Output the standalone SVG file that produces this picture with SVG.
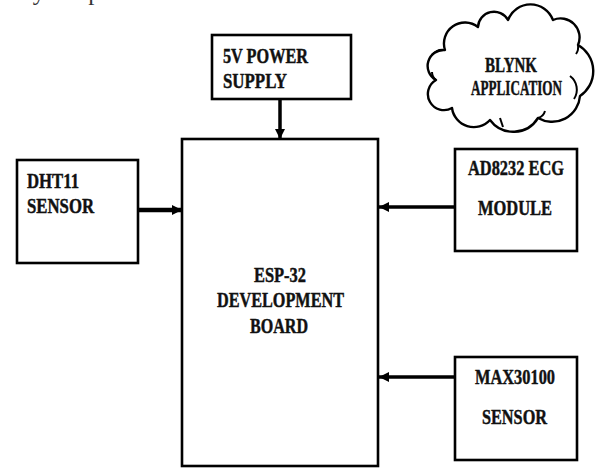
<svg xmlns="http://www.w3.org/2000/svg" width="600" height="468" viewBox="0 0 600 468">
<defs>
<style>
.box{fill:#fff;stroke:#000;stroke-width:2.6}
.lbl{font-family:"Liberation Serif","Times New Roman",serif;font-weight:bold;font-size:21px;fill:#111;stroke:#111;stroke-width:0.45}
.con{stroke:#000;fill:none}
.cloud{fill:#fff;stroke:#000;stroke-width:2.4;stroke-linejoin:round}
.inner{fill:none;stroke:#000;stroke-width:2}
.page{font-family:"Liberation Serif","Times New Roman",serif;font-size:25px;fill:#333}
</style>
<marker id="ah" viewBox="0 0 10 10" refX="10" refY="5" markerWidth="10" markerHeight="10" markerUnits="userSpaceOnUse" orient="auto">
<path d="M0,0 L10,5 L0,10 Z" fill="#000"/>
</marker>
</defs>
<rect width="600" height="468" fill="#fff"/>
<text class="page" x="8" y="0" textLength="265" lengthAdjust="spacingAndGlyphs">ody temperature and ECG.</text>

<g id="connectors">
<line class="con" x1="280" y1="99" x2="280" y2="139" stroke-width="3.5" marker-end="url(#ah)"/>
<line class="con" x1="138" y1="210" x2="182" y2="210" stroke-width="4.5" marker-end="url(#ah)"/>
<line class="con" x1="455" y1="207" x2="379" y2="207" stroke-width="3.5" marker-end="url(#ah)"/>
<line class="con" x1="455" y1="377" x2="379" y2="377" stroke-width="3.5" marker-end="url(#ah)"/>
</g>

<g id="power">
<rect class="box" x="212" y="35" width="139" height="64"/>
<text class="lbl" x="223" y="63" textLength="85" lengthAdjust="spacingAndGlyphs">5V POWER</text>
<text class="lbl" x="223" y="88" textLength="64" lengthAdjust="spacingAndGlyphs">SUPPLY</text>
</g>

<g id="esp32">
<rect class="box" x="182" y="139" width="196" height="327"/>
<text class="lbl" x="254" y="282" textLength="52" lengthAdjust="spacingAndGlyphs">ESP-32</text>
<text class="lbl" x="217" y="307" textLength="127" lengthAdjust="spacingAndGlyphs">DEVELOPMENT</text>
<text class="lbl" x="250" y="333" textLength="58" lengthAdjust="spacingAndGlyphs">BOARD</text>
</g>

<g id="dht11">
<rect class="box" x="17" y="160" width="121" height="103"/>
<text class="lbl" x="27" y="188" textLength="52" lengthAdjust="spacingAndGlyphs">DHT11</text>
<text class="lbl" x="27" y="213" textLength="67" lengthAdjust="spacingAndGlyphs">SENSOR</text>
</g>

<g id="ad8232">
<rect class="box" x="455" y="149" width="122" height="102"/>
<text class="lbl" x="468" y="175" textLength="96" lengthAdjust="spacingAndGlyphs">AD8232 ECG</text>
<text class="lbl" x="478" y="215" textLength="74" lengthAdjust="spacingAndGlyphs">MODULE</text>
</g>

<g id="max30100">
<rect class="box" x="455" y="357" width="122" height="103"/>
<text class="lbl" x="475" y="384" textLength="80" lengthAdjust="spacingAndGlyphs">MAX30100</text>
<text class="lbl" x="482" y="424" textLength="65" lengthAdjust="spacingAndGlyphs">SENSOR</text>
</g>

<g id="blynk">
<path class="cloud" d="M436,80 A16,16 0 0 1 445,50 A21,21 0 0 1 478,27 A16,16 0 0 1 508,20 A24,24 0 0 1 553,20 A19,19 0 0 1 578,45 A30,30 0 0 1 580,96 A28,28 0 0 1 538,118 A29,29 0 0 1 490,120 A22,22 0 0 1 452,108 A16,16 0 0 1 436,80 Z"/>
<path class="inner" d="M570,76 A17,17 0 0 1 574,99"/>
<path class="inner" d="M445,50 A14,14 0 0 0 432,55"/>
<path class="inner" d="M436,80 A10,10 0 0 1 432,72"/>
<path class="inner" d="M500,118 L503,127"/>
<path class="inner" d="M538,118 A10,10 0 0 0 545,111"/>
<path class="inner" d="M578,45 A12,12 0 0 1 576,54"/>
<text class="lbl" x="485" y="72" textLength="52" lengthAdjust="spacingAndGlyphs">BLYNK</text>
<text class="lbl" x="471" y="95" textLength="91" lengthAdjust="spacingAndGlyphs">APPLICATION</text>
</g>
</svg>
